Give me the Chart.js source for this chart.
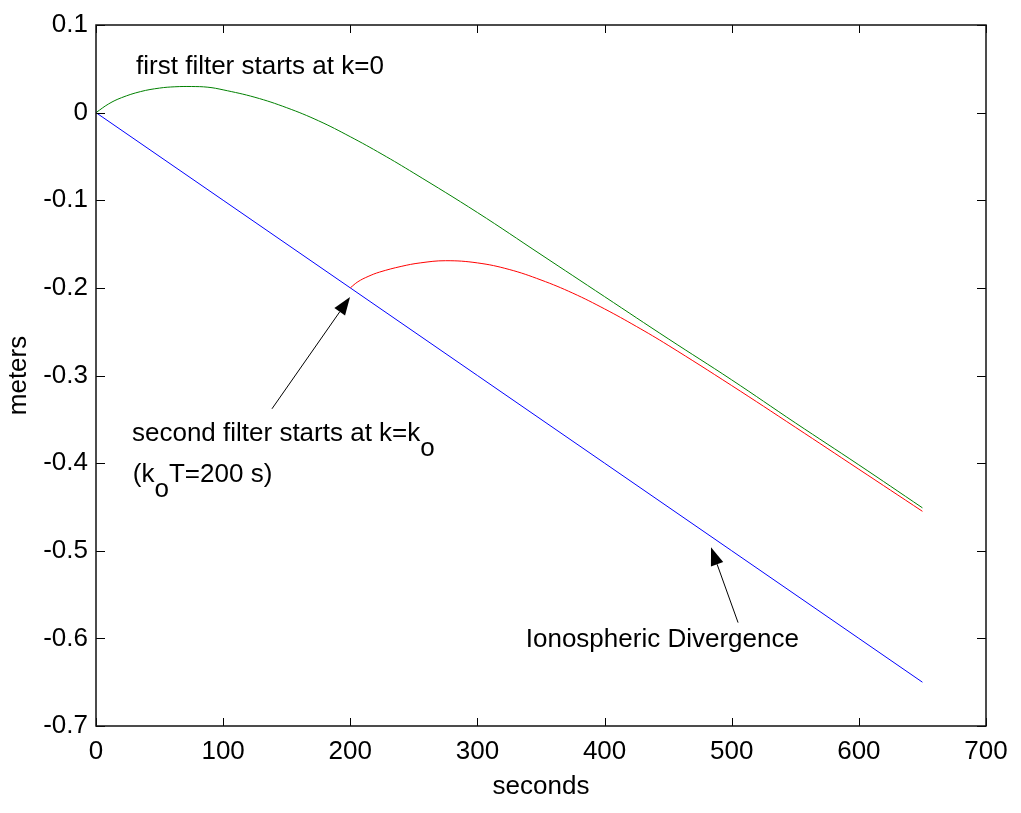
<!DOCTYPE html>
<html>
<head>
<meta charset="utf-8">
<script src="https://cdn.jsdelivr.net/npm/chart.js@4.4.1/dist/chart.umd.min.js"></script>
<style>
  html, body { margin: 0; padding: 0; background: #fff; }
  canvas { display: block; }
</style>
</head>
<body>
<canvas id="errChart" width="1021" height="813"></canvas>
<script>
// time axis (s) and position error (m) for each curve
const ionoTime = [0, 100, 200, 300, 400, 500, 600, 650];
const ionoDiv = [0, -0.1, -0.2, -0.3, -0.4, -0.5, -0.6, -0.65];

const firstTime = [0, 10, 20, 35, 50, 62, 75, 88, 100, 125, 150, 175, 200, 225, 250, 300, 350, 400, 450, 500, 550, 600, 650];
const firstErr = [0, 0.01, 0.017, 0.024, 0.028, 0.0295, 0.0298, 0.029, 0.026, 0.0175, 0.0056, -0.0093, -0.0275, -0.0475, -0.069, -0.114, -0.162, -0.21, -0.258, -0.305, -0.354, -0.402, -0.451];

const secondTime = [200, 206, 214, 223, 240, 255, 275, 300, 325, 350, 375, 400, 425, 450, 500, 550, 600, 650];
const secondErr = [-0.2, -0.193, -0.187, -0.182, -0.1755, -0.1715, -0.169, -0.1715, -0.179, -0.191, -0.206, -0.224, -0.244, -0.2655, -0.3115, -0.359, -0.407, -0.455];

const xTicks = [0, 100, 200, 300, 400, 500, 600, 700];
const yTicks = [0.1, 0, -0.1, -0.2, -0.3, -0.4, -0.5, -0.6, -0.7];

const FONT = "'Liberation Sans', Arial, Helvetica, sans-serif";

function pts(xs, ys) {
  return xs.map((x, i) => ({ x: x, y: ys[i] }));
}

// text labels and arrows, placed in axis units
const notes = {
  first: { x: 31.5, y: 0.044 },
  second: { x: 28.3, y: -0.375 },
  ko: { x: 29, y: -0.421 },
  iono: { x: 338, y: -0.61 },
  arrows: [
    { from: [138.4, -0.338], to: [199.8, -0.2105] },
    { from: [505, -0.582], to: [483.7, -0.496] },
  ],
};

function drawArrow(ctx, x0, y0, x1, y1) {
  const ang = Math.atan2(y1 - y0, x1 - x0);
  const len = 18, half = 6.5;
  const bx = x1 - len * Math.cos(ang);
  const by = y1 - len * Math.sin(ang);
  ctx.beginPath();
  ctx.moveTo(x0, y0);
  ctx.lineTo(bx, by);
  ctx.stroke();
  ctx.beginPath();
  ctx.moveTo(x1, y1);
  ctx.lineTo(bx + half * Math.sin(ang), by - half * Math.cos(ang));
  ctx.lineTo(bx - half * Math.sin(ang), by + half * Math.cos(ang));
  ctx.closePath();
  ctx.fill();
}

// box around the plot, inward ticks on all sides, and the annotations
const matlabAxes = {
  id: "matlabAxes",
  afterDatasetsDraw(chart) {
    const { ctx, chartArea: a, scales } = chart;
    const sx = scales.x, sy = scales.y;
    ctx.save();
    ctx.strokeStyle = "#000";
    ctx.lineWidth = 1;
    ctx.beginPath();
    xTicks.forEach((v) => {
      const px = Math.round(sx.getPixelForValue(v)) + 0.5;
      ctx.moveTo(px, a.bottom); ctx.lineTo(px, a.bottom - 8);
      ctx.moveTo(px, a.top); ctx.lineTo(px, a.top + 8);
    });
    yTicks.forEach((v) => {
      const py = Math.round(sy.getPixelForValue(v)) + 0.5;
      ctx.moveTo(a.left, py); ctx.lineTo(a.left + 9, py);
      ctx.moveTo(a.right, py); ctx.lineTo(a.right - 9, py);
    });
    ctx.stroke();
    ctx.lineWidth = 1.5;
    ctx.strokeStyle = "#111";
    ctx.strokeRect(a.left, a.top, a.right - a.left, a.bottom - a.top);

    ctx.fillStyle = "#000";
    ctx.font = "26px " + FONT;
    ctx.textBaseline = "alphabetic";
    ctx.textAlign = "left";
    const P = (p) => [sx.getPixelForValue(p.x), sy.getPixelForValue(p.y)];

    let [x, y] = P(notes.first);
    ctx.fillText("first filter starts at k=0", x, y);

    [x, y] = P(notes.second);
    const s1 = "second filter starts at k=k";
    ctx.fillText(s1, x, y);
    ctx.fillText("o", x + ctx.measureText(s1).width, y + 15);

    [x, y] = P(notes.ko);
    ctx.fillText("(k", x, y);
    let w = ctx.measureText("(k").width;
    ctx.fillText("o", x + w, y + 15);
    w += ctx.measureText("o").width;
    ctx.fillText("T=200 s)", x + w, y);

    [x, y] = P(notes.iono);
    ctx.fillText("Ionospheric Divergence", x, y);

    ctx.lineWidth = 1;
    ctx.strokeStyle = "#000";
    notes.arrows.forEach((ar) => {
      const x0 = sx.getPixelForValue(ar.from[0]), y0 = sy.getPixelForValue(ar.from[1]);
      const x1 = sx.getPixelForValue(ar.to[0]), y1 = sy.getPixelForValue(ar.to[1]);
      drawArrow(ctx, x0, y0, x1, y1);
    });
    ctx.restore();
  },
};

const ctx = document.getElementById("errChart").getContext("2d");
new Chart(ctx, {
  type: "line",
  data: {
    datasets: [
      {
        label: "first filter",
        data: pts(firstTime, firstErr),
        borderColor: "#008000",
        borderWidth: 1,
        pointRadius: 0,
        tension: 0.4,
      },
      {
        label: "second filter",
        data: pts(secondTime, secondErr),
        borderColor: "#ff0000",
        borderWidth: 1,
        pointRadius: 0,
        tension: 0.4,
      },
      {
        label: "ionospheric divergence",
        data: pts(ionoTime, ionoDiv),
        borderColor: "#0000ff",
        borderWidth: 1,
        pointRadius: 0,
      },
    ],
  },
  options: {
    responsive: false,
    devicePixelRatio: 1,
    animation: false,
    events: [],
    layout: { padding: { left: 0, top: 25, right: 35, bottom: 0 } },
    plugins: {
      legend: { display: false },
      tooltip: { enabled: false },
    },
    scales: {
      x: {
        type: "linear",
        min: 0,
        max: 700,
        afterBuildTicks: (scale) => {
          scale.ticks = xTicks.map((v) => ({ value: v }));
        },
        afterFit: (scale) => {
          scale.height = 87;
        },
        grid: { display: false, drawTicks: false },
        border: { display: false },
        ticks: {
          color: "#000",
          padding: 10,
          maxRotation: 0,
          font: { family: FONT, size: 26 },
        },
        title: {
          display: true,
          text: "seconds",
          color: "#000",
          font: { family: FONT, size: 26 },
          padding: { top: 0, bottom: 11 },
        },
      },
      y: {
        type: "linear",
        min: -0.7,
        max: 0.1,
        afterBuildTicks: (scale) => {
          scale.ticks = yTicks.map((v) => ({ value: v }));
        },
        afterFit: (scale) => {
          scale.width = 96;
        },
        grid: { display: false, drawTicks: false },
        border: { display: false },
        ticks: {
          color: "#000",
          padding: 8,
          font: { family: FONT, size: 26 },
          callback: (v) => String(Math.round(v * 10) / 10),
        },
        title: {
          display: true,
          text: "meters",
          color: "#000",
          font: { family: FONT, size: 26 },
          padding: { top: 3, bottom: 0 },
        },
      },
    },
  },
  plugins: [matlabAxes],
});
</script>
</body>
</html>
